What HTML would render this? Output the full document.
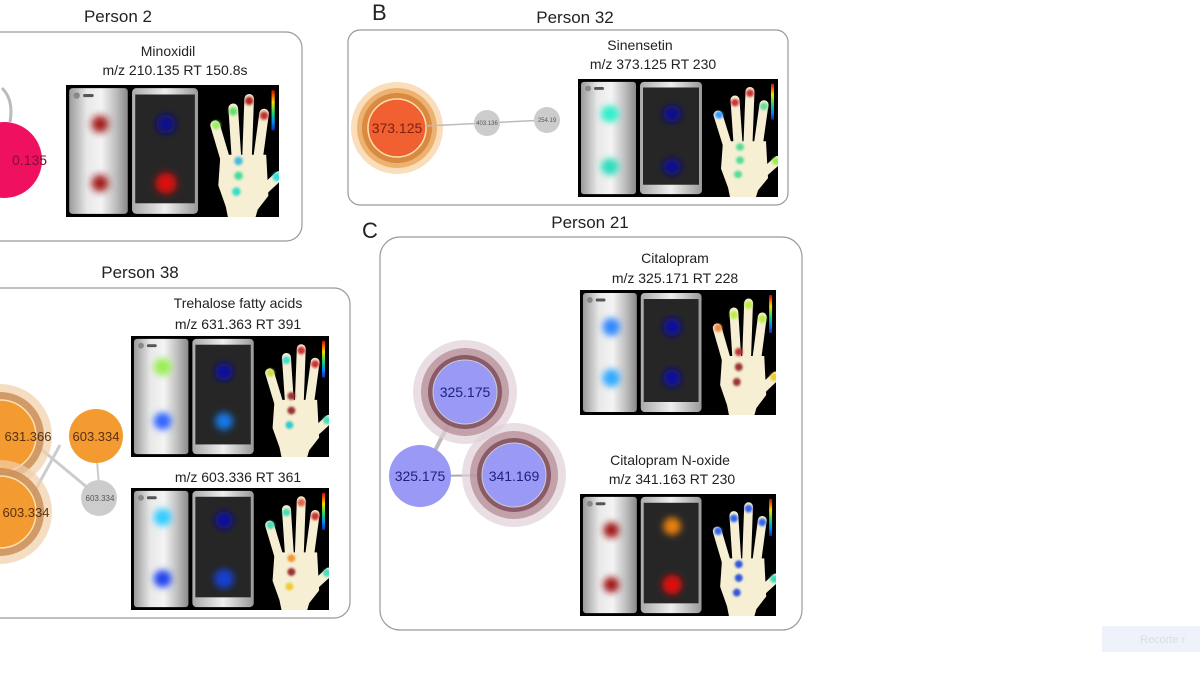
<!DOCTYPE html>
<html><head><meta charset="utf-8"><style>
html,body{margin:0;padding:0;background:#fff;}
svg{display:block;font-family:"Liberation Sans",sans-serif;}
</style></head><body>
<svg width="1200" height="675" viewBox="0 0 1200 675" xmlns="http://www.w3.org/2000/svg">
<defs>
<linearGradient id="silver" x1="0" x2="1" y1="0" y2="0">
<stop offset="0" stop-color="#9a9a9a"/><stop offset="0.3" stop-color="#e8e8e8"/><stop offset="0.55" stop-color="#f4f4f4"/><stop offset="0.8" stop-color="#bdbdbd"/><stop offset="1" stop-color="#8a8a8a"/>
</linearGradient>
<linearGradient id="frame" x1="0" x2="1"><stop offset="0" stop-color="#aaa"/><stop offset="0.5" stop-color="#eee"/><stop offset="1" stop-color="#999"/></linearGradient>
<linearGradient id="cbar" x1="0" x2="0" y1="0" y2="1"><stop offset="0" stop-color="#d00"/><stop offset="0.3" stop-color="#fd0"/><stop offset="0.55" stop-color="#2d6"/><stop offset="0.8" stop-color="#08f"/><stop offset="1" stop-color="#22a"/></linearGradient>
<filter id="bl" x="-1" y="-1" width="3" height="3"><feGaussianBlur stdDeviation="3.5"/></filter>
<filter id="bs" x="-1" y="-1" width="3" height="3"><feGaussianBlur stdDeviation="1.2"/></filter>
<symbol id="img" viewBox="0 0 200 125" preserveAspectRatio="none">
<rect width="200" height="125" fill="#000"/>
<rect x="3" y="3" width="55" height="119" rx="3" fill="url(#silver)"/>
<circle cx="10" cy="10" r="3" fill="#888"/><rect x="16" y="8.5" width="10" height="3" rx="1.5" fill="#555"/>
<rect x="62" y="3" width="62" height="119" rx="4" fill="url(#frame)"/>
<rect x="65" y="9" width="56" height="103" fill="#262626"/>
<g stroke="#f6efd3" stroke-linecap="round" stroke-width="9" fill="none">
<line x1="150" y1="72" x2="140" y2="38"/>
<line x1="160" y1="68" x2="157" y2="22"/>
<line x1="170" y1="68" x2="172" y2="13"/>
<line x1="180" y1="72" x2="186" y2="27"/>
<line x1="185" y1="100" x2="200" y2="86"/>
</g>
<path d="M145,66 L188,66 L190,105 L180,118 L178,125 L152,125 L150,115 L143,95 Z" fill="#f6efd3"/>
<rect x="193" y="5" width="3" height="38" fill="url(#cbar)"/>
</symbol>
</defs>

<!-- Panel A -->
<text x="118" y="22" font-size="17" text-anchor="middle" fill="#222">Person 2</text>
<rect x="-20" y="32" width="322" height="209" rx="16" fill="none" stroke="#999" stroke-width="1.2"/>
<path d="M2,88 Q14,100 10,122" stroke="#bbb" stroke-width="3" fill="none"/>
<circle cx="4" cy="160" r="38" fill="#f01060"/>
<text x="12" y="165" font-size="14" fill="#801030">0.135</text>
<text x="168" y="56" font-size="14" text-anchor="middle" fill="#222">Minoxidil</text>
<text x="175" y="75" font-size="14" text-anchor="middle" fill="#222">m/z 210.135 RT 150.8s</text>
<svg x="66" y="85" width="213" height="132" viewBox="0 0 200 125" preserveAspectRatio="none">
<use href="#img" width="200" height="125"/>
<g filter="url(#bl)"><circle cx="32" cy="37" r="8" fill="#a01818"/><circle cx="32" cy="93" r="8" fill="#a01818"/>
<circle cx="94" cy="37" r="9" fill="#101090"/><circle cx="94" cy="93" r="10" fill="#e01010"/></g>
<g filter="url(#bs)"><circle cx="141" cy="38" r="4" fill="#9e6"/><circle cx="157" cy="25" r="4" fill="#6d6"/><circle cx="172" cy="15" r="4" fill="#a22"/><circle cx="186" cy="29" r="4" fill="#b33"/><circle cx="198" cy="87" r="4" fill="#3dd"/>
<circle cx="162" cy="72" r="4" fill="#4bd"/><circle cx="162" cy="86" r="4" fill="#4d9"/><circle cx="160" cy="101" r="4" fill="#3dc"/></g>
</svg>

<!-- Panel B -->
<text x="372" y="20" font-size="22" fill="#222">B</text>
<text x="575" y="23" font-size="17" text-anchor="middle" fill="#222">Person 32</text>
<rect x="348" y="30" width="440" height="175" rx="12" fill="none" stroke="#999" stroke-width="1.2"/>
<circle cx="397" cy="128" r="46" fill="#f7c890" opacity="0.6"/>
<circle cx="397" cy="128" r="40" fill="#e8a050" opacity="0.7"/>
<circle cx="397" cy="128" r="35" fill="#d88a40"/>
<circle cx="397" cy="128" r="29" fill="#f06030" stroke="#fde0b0" stroke-width="1.5"/>
<line x1="425" y1="126" x2="546" y2="120" stroke="#bbb" stroke-width="1.5"/>
<circle cx="487" cy="123" r="13" fill="#ccc"/><circle cx="547" cy="120" r="13" fill="#ccc"/>
<text x="397" y="133" font-size="14" text-anchor="middle" fill="#802010">373.125</text>
<text x="487" y="125" font-size="6" text-anchor="middle" fill="#555">403.136</text>
<text x="547" y="122" font-size="6" text-anchor="middle" fill="#555">254.19</text>
<text x="640" y="50" font-size="14" text-anchor="middle" fill="#222">Sinensetin</text>
<text x="653" y="69" font-size="14" text-anchor="middle" fill="#222">m/z 373.125 RT 230</text>
<svg x="578" y="79" width="200" height="118" viewBox="0 0 200 125" preserveAspectRatio="none">
<use href="#img" width="200" height="125"/>
<g filter="url(#bl)"><circle cx="32" cy="37" r="9" fill="#3ec"/><circle cx="32" cy="93" r="9" fill="#3db"/>
<circle cx="94" cy="37" r="9" fill="#101090"/><circle cx="94" cy="93" r="9" fill="#101090"/></g>
<g filter="url(#bs)"><circle cx="141" cy="38" r="4" fill="#39f"/><circle cx="157" cy="25" r="4" fill="#c33"/><circle cx="172" cy="15" r="4" fill="#c33"/><circle cx="186" cy="29" r="4" fill="#6d9"/><circle cx="198" cy="87" r="4" fill="#9e4"/>
<circle cx="162" cy="72" r="4" fill="#5d9"/><circle cx="162" cy="86" r="4" fill="#5d9"/><circle cx="160" cy="101" r="4" fill="#5d9"/></g>
</svg>

<!-- Panel C -->
<text x="362" y="238" font-size="22" fill="#222">C</text>
<text x="590" y="228" font-size="17" text-anchor="middle" fill="#222">Person 21</text>
<rect x="380" y="237" width="422" height="393" rx="20" fill="none" stroke="#999" stroke-width="1.2"/>
<line x1="465" y1="392" x2="422" y2="476" stroke="#bbb" stroke-width="4"/>
<line x1="422" y1="476" x2="514" y2="475" stroke="#aaa" stroke-width="2"/>
<g>
<circle cx="465" cy="392" r="52" fill="#e0d0d8" opacity="0.7"/><circle cx="465" cy="392" r="44" fill="#b08890" opacity="0.7"/><circle cx="465" cy="392" r="37" fill="#8a5a68"/><circle cx="465" cy="392" r="32" fill="#9a9af6" stroke="#ccc" stroke-width="1"/>
<circle cx="514" cy="475" r="52" fill="#e0d0d8" opacity="0.7"/><circle cx="514" cy="475" r="44" fill="#b08890" opacity="0.7"/><circle cx="514" cy="475" r="37" fill="#8a5a68"/><circle cx="514" cy="475" r="32" fill="#9a9af6" stroke="#ccc" stroke-width="1"/>
<circle cx="420" cy="476" r="31" fill="#9a9af6"/>
</g>
<text x="465" y="397" font-size="14" text-anchor="middle" fill="#202080">325.175</text>
<text x="420" y="481" font-size="14" text-anchor="middle" fill="#202080">325.175</text>
<text x="514" y="481" font-size="14" text-anchor="middle" fill="#202080">341.169</text>
<text x="675" y="263" font-size="14" text-anchor="middle" fill="#222">Citalopram</text>
<text x="675" y="283" font-size="14" text-anchor="middle" fill="#222">m/z 325.171 RT 228</text>
<svg x="580" y="290" width="196" height="125" viewBox="0 0 200 125" preserveAspectRatio="none">
<use href="#img" width="200" height="125"/>
<g filter="url(#bl)"><circle cx="32" cy="37" r="9" fill="#38f"/><circle cx="32" cy="88" r="9" fill="#3af"/>
<circle cx="94" cy="37" r="9" fill="#1010a0"/><circle cx="94" cy="88" r="9" fill="#1010a0"/></g>
<g filter="url(#bs)"><circle cx="141" cy="38" r="4" fill="#e84"/><circle cx="157" cy="25" r="4" fill="#be4"/><circle cx="172" cy="15" r="4" fill="#be4"/><circle cx="186" cy="29" r="4" fill="#be4"/><circle cx="198" cy="87" r="4" fill="#ec2"/>
<circle cx="162" cy="62" r="4" fill="#b33"/><circle cx="162" cy="77" r="4" fill="#933"/><circle cx="160" cy="92" r="4" fill="#933"/></g>
</svg>
<text x="670" y="465" font-size="14" text-anchor="middle" fill="#222">Citalopram N-oxide</text>
<text x="672" y="484" font-size="14" text-anchor="middle" fill="#222">m/z 341.163 RT 230</text>
<svg x="580" y="494" width="196" height="122" viewBox="0 0 200 125" preserveAspectRatio="none">
<use href="#img" width="200" height="125"/>
<g filter="url(#bl)"><circle cx="32" cy="37" r="8" fill="#a01818"/><circle cx="32" cy="93" r="8" fill="#a01818"/>
<circle cx="94" cy="33" r="9" fill="#e88010"/><circle cx="94" cy="93" r="10" fill="#e01010"/></g>
<g filter="url(#bs)"><circle cx="141" cy="38" r="4" fill="#36e"/><circle cx="157" cy="25" r="4" fill="#36e"/><circle cx="172" cy="15" r="4" fill="#36e"/><circle cx="186" cy="29" r="4" fill="#36e"/><circle cx="198" cy="87" r="4" fill="#3db"/>
<circle cx="162" cy="72" r="4" fill="#35d"/><circle cx="162" cy="86" r="4" fill="#35d"/><circle cx="160" cy="101" r="4" fill="#35d"/></g>
</svg>

<!-- Panel Person 38 -->
<text x="140" y="278" font-size="17" text-anchor="middle" fill="#222">Person 38</text>
<rect x="-20" y="288" width="370" height="330" rx="16" fill="none" stroke="#999" stroke-width="1.2"/>
<line x1="30" y1="440" x2="100" y2="498" stroke="#ccc" stroke-width="3"/>
<line x1="95" y1="436" x2="100" y2="498" stroke="#ccc" stroke-width="2"/>
<line x1="30" y1="500" x2="60" y2="445" stroke="#ccc" stroke-width="3"/>
<circle cx="0" cy="436" r="52" fill="#f1cfa8" opacity="0.7"/><circle cx="0" cy="436" r="44" fill="#c88a50" opacity="0.8"/><circle cx="0" cy="436" r="36" fill="#f39a30" stroke="#fde0b0" stroke-width="1.5"/>
<circle cx="0" cy="512" r="52" fill="#f1cfa8" opacity="0.7"/><circle cx="0" cy="512" r="44" fill="#c88a50" opacity="0.8"/><circle cx="0" cy="512" r="36" fill="#f39a30" stroke="#fde0b0" stroke-width="1.5"/>
<circle cx="96" cy="436" r="27" fill="#f39a30"/>
<circle cx="99" cy="498" r="18" fill="#ccc"/>
<text x="28" y="441" font-size="13" text-anchor="middle" fill="#5a3010">631.366</text>
<text x="96" y="441" font-size="13" text-anchor="middle" fill="#5a3010">603.334</text>
<text x="26" y="517" font-size="13" text-anchor="middle" fill="#5a3010">603.334</text>
<text x="100" y="501" font-size="8" text-anchor="middle" fill="#555">603.334</text>
<text x="238" y="308" font-size="14" text-anchor="middle" fill="#222">Trehalose fatty acids</text>
<text x="238" y="329" font-size="14" text-anchor="middle" fill="#222">m/z 631.363 RT 391</text>
<svg x="131" y="336" width="198" height="121" viewBox="0 0 200 125" preserveAspectRatio="none">
<use href="#img" width="200" height="125"/>
<g filter="url(#bl)"><circle cx="32" cy="32" r="9" fill="#9e5"/><circle cx="32" cy="88" r="9" fill="#36f"/>
<circle cx="94" cy="37" r="9" fill="#1010a0"/><circle cx="94" cy="88" r="9" fill="#1878e8"/></g>
<g filter="url(#bs)"><circle cx="141" cy="38" r="4" fill="#cd4"/><circle cx="157" cy="25" r="4" fill="#4dc"/><circle cx="172" cy="15" r="4" fill="#c33"/><circle cx="186" cy="29" r="4" fill="#c33"/><circle cx="198" cy="87" r="4" fill="#4db"/>
<circle cx="162" cy="62" r="4" fill="#933"/><circle cx="162" cy="77" r="4" fill="#933"/><circle cx="160" cy="92" r="4" fill="#3cc"/></g>
</svg>
<text x="238" y="482" font-size="14" text-anchor="middle" fill="#222">m/z 603.336 RT 361</text>
<svg x="131" y="488" width="198" height="122" viewBox="0 0 200 125" preserveAspectRatio="none">
<use href="#img" width="200" height="125"/>
<g filter="url(#bl)"><circle cx="32" cy="30" r="9" fill="#3cf"/><circle cx="32" cy="93" r="9" fill="#24e"/>
<circle cx="94" cy="33" r="9" fill="#1010a0"/><circle cx="94" cy="93" r="10" fill="#1640d0"/></g>
<g filter="url(#bs)"><circle cx="141" cy="38" r="4" fill="#4db"/><circle cx="157" cy="25" r="4" fill="#4db"/><circle cx="172" cy="15" r="4" fill="#d64"/><circle cx="186" cy="29" r="4" fill="#c33"/><circle cx="198" cy="87" r="4" fill="#4db"/>
<circle cx="162" cy="72" r="4" fill="#e93"/><circle cx="162" cy="86" r="4" fill="#933"/><circle cx="160" cy="101" r="4" fill="#ec3"/></g>
</svg>

<!-- faint overlay bottom right -->
<rect x="1102" y="626" width="110" height="26" fill="#eef3fb"/>
<text x="1140" y="643" font-size="11" fill="#d8dde6">Recorte r</text>
</svg>
</body></html>
